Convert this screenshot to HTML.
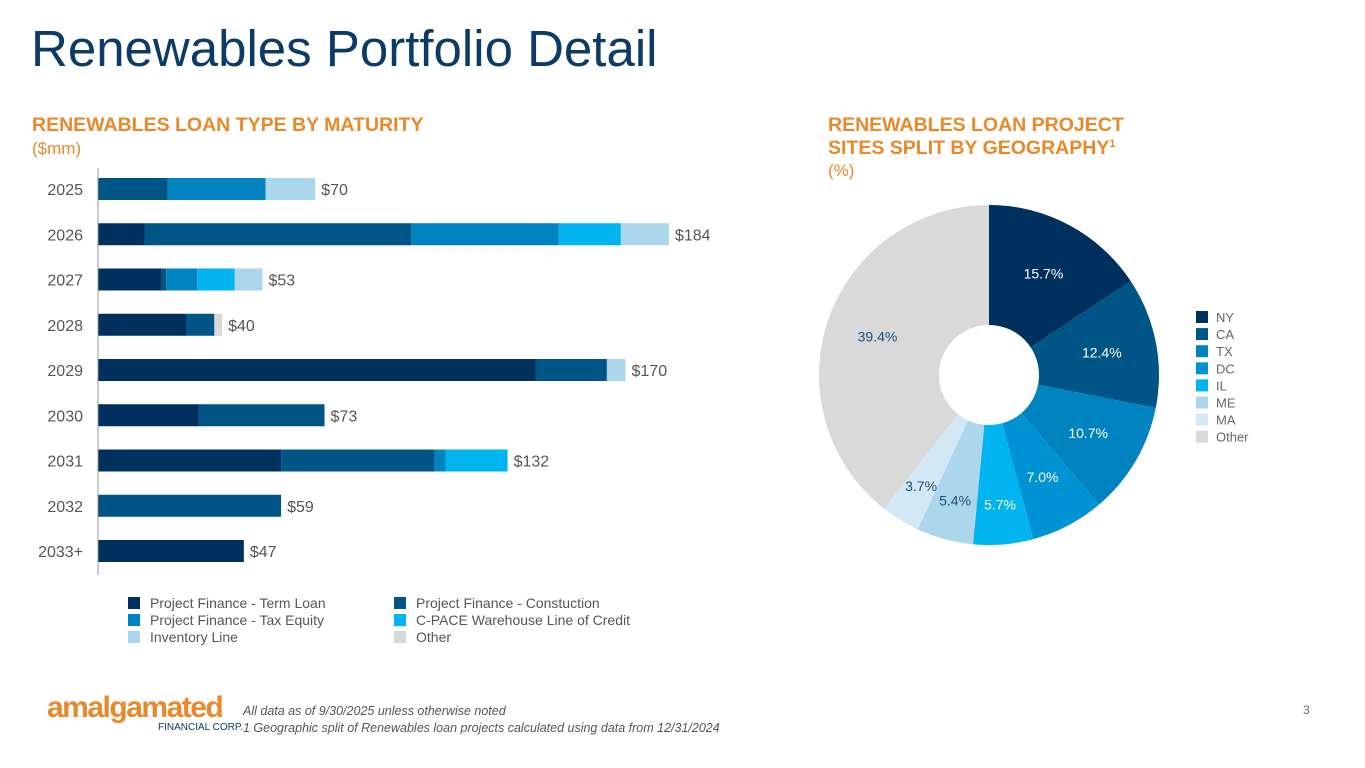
<!DOCTYPE html>
<html><head><meta charset="utf-8"><style>
body{margin:0;width:1365px;height:768px;background:#fff;font-family:"Liberation Sans",sans-serif;position:relative;overflow:hidden}
.abs{position:absolute}
h1{position:absolute;left:31px;top:19px;margin:0;font-size:51px;font-weight:normal;color:#0b3b66}
.hd{position:absolute;color:#e8892b;font-weight:bold;font-size:19.5px;line-height:22.5px}
.sub{color:#e8892b;font-weight:normal;font-size:17px}
sup{font-size:11px;line-height:0;vertical-align:7px}
</style></head><body>
<h1>Renewables Portfolio Detail</h1>
<div class="hd" style="left:32px;top:114px">RENEWABLES LOAN TYPE BY MATURITY<br><span class="sub">($mm)</span></div>
<div class="hd" style="left:828px;top:114px">RENEWABLES LOAN PROJECT<br>SITES SPLIT BY GEOGRAPHY<sup>1</sup><br><span class="sub">(%)</span></div>
<svg class="abs" style="left:0;top:0" width="1365" height="768" id="chart"></svg>
<div class="abs" style="left:47px;top:693px;color:#e8892b;font-weight:bold;font-size:30px;letter-spacing:-1.5px;line-height:30px">amalgamated</div>
<div class="abs" style="left:158px;top:722px;color:#0b3b66;font-size:10px">FINANCIAL CORP.</div>
<div class="abs" style="left:243px;top:703px;color:#555;font-size:12.5px;font-style:italic;line-height:17px">All data as of 9/30/2025 unless otherwise noted<br>1 Geographic split of Renewables loan projects calculated using data from 12/31/2024</div>
<div class="abs" style="left:1303px;top:703px;color:#666;font-size:12px">3</div>
<script>
const years=['2025','2026','2027','2028','2029','2030','2031','2032','2033+'];
const termLoan=[0,15,20.5,28.5,141,32.5,59,0.5,47];
const construction=[22.5,86,1.5,9,23,40.5,49.5,58.5,0];
const taxEquity=[31.5,47.5,10,0,0,0,3.5,0,0];
const cpace=[0,20,12,0,0,0,20,0,0];
const inventory=[16,15.5,9,0,6,0,0,0,0];
const other=[0,0,0,2.5,0,0,0,0,0];
const totals=['$70','$184','$53','$40','$170','$73','$132','$59','$47'];
const seriesNames=['Project Finance - Term Loan','Project Finance - Constuction','Project Finance - Tax Equity','C-PACE Warehouse Line of Credit','Inventory Line','Other'];
const seriesColors=['#00305e','#005587','#0083bf','#00b5ef','#acd6ec','#d9d9d9'];
const geoNames=['NY','CA','TX','DC','IL','ME','MA','Other'];
const geoValues=[15.7,12.4,10.7,7.0,5.7,5.4,3.7,39.4];
const geoColors=['#00305e','#005587','#0083bf','#0093d3','#00b5ef','#acd6ec','#d2e8f5','#d9d9d9'];
const geoLabelColors=['#fff','#fff','#fff','#fff','#fff','#1f4e79','#1f4e79','#1f4e79'];

const svg=document.getElementById('chart');
const NS='http://www.w3.org/2000/svg';
function mk(t,a){const e=document.createElementNS(NS,t);for(const k in a)e.setAttribute(k,a[k]);svg.appendChild(e);return e;}
const x0=98,pxPer=3.103,y0=189,step=45.25,bh=22;
const xs=v=>x0+v*pxPer, ys=i=>y0+i*step;
const series=[termLoan,construction,taxEquity,cpace,inventory,other];
years.forEach((yr,i)=>{
  let acc=0;
  series.forEach((s,j)=>{
    const v=s[i]; if(v<=0)return;
    const r=mk('rect',{x:xs(acc),y:ys(i)-bh/2,width:v*pxPer,height:bh,fill:seriesColors[j]});
    
    
    acc+=v;
  });
  const t=mk('text',{x:xs(acc)+6,y:ys(i)+6,'font-size':16,fill:'#555'});t.textContent=totals[i];
  
  
  const l=mk('text',{x:83,y:ys(i)+6,'font-size':16,fill:'#555','text-anchor':'end'});l.textContent=yr;
  
  
});
const ax=mk('line',{x1:x0,y1:168,x2:x0,y2:575,stroke:'#999','stroke-width':1});


seriesNames.forEach((n,j)=>{
  const lx=j%2?394:128, ly=597+Math.floor(j/2)*17;
  const r=mk('rect',{x:lx,y:ly,width:12,height:12,fill:seriesColors[j]});
  
  
  const t=mk('text',{x:lx+22,y:ly+11,'font-size':14,fill:'#555'});t.textContent=n;
  
  
});
const cx=989,cy=375,R=170,Ri=50;
const tot=geoValues.reduce((a,b)=>a+b,0);
let a0=0;
geoValues.forEach((v,i)=>{
  const a1=a0+v/tot*2*Math.PI;
  const p=(a,r)=>[cx+r*Math.sin(a),cy-r*Math.cos(a)];
  const [x1,y1]=p(a0,R),[x2,y2]=p(a1,R);
  const large=(a1-a0)>Math.PI?1:0;
  const s=mk('path',{d:`M${cx},${cy} L${x1},${y1} A${R},${R} 0 ${large} 1 ${x2},${y2} Z`,fill:geoColors[i]});
  
  
  const am=(a0+a1)/2, rl=i===7?118:(i>=4?130:115);
  const [lx,ly]=p(am,rl);
  const t=mk('text',{x:lx,y:ly+5,'font-size':14,fill:geoLabelColors[i],'text-anchor':'middle'});t.textContent=geoValues[i].toFixed(1)+'%';
  
  
  a0=a1;
});
const h=mk('circle',{cx:cx,cy:cy,r:Ri,fill:'#fff'});


geoNames.forEach((n,i)=>{
  const ly=311+i*17.1;
  const r=mk('rect',{x:1196,y:ly,width:12,height:12,fill:geoColors[i]});
  
  
  const t=mk('text',{x:1216,y:ly+11,'font-size':13,fill:'#666'});t.textContent=n;
  
  
});
</script>
</body></html>
